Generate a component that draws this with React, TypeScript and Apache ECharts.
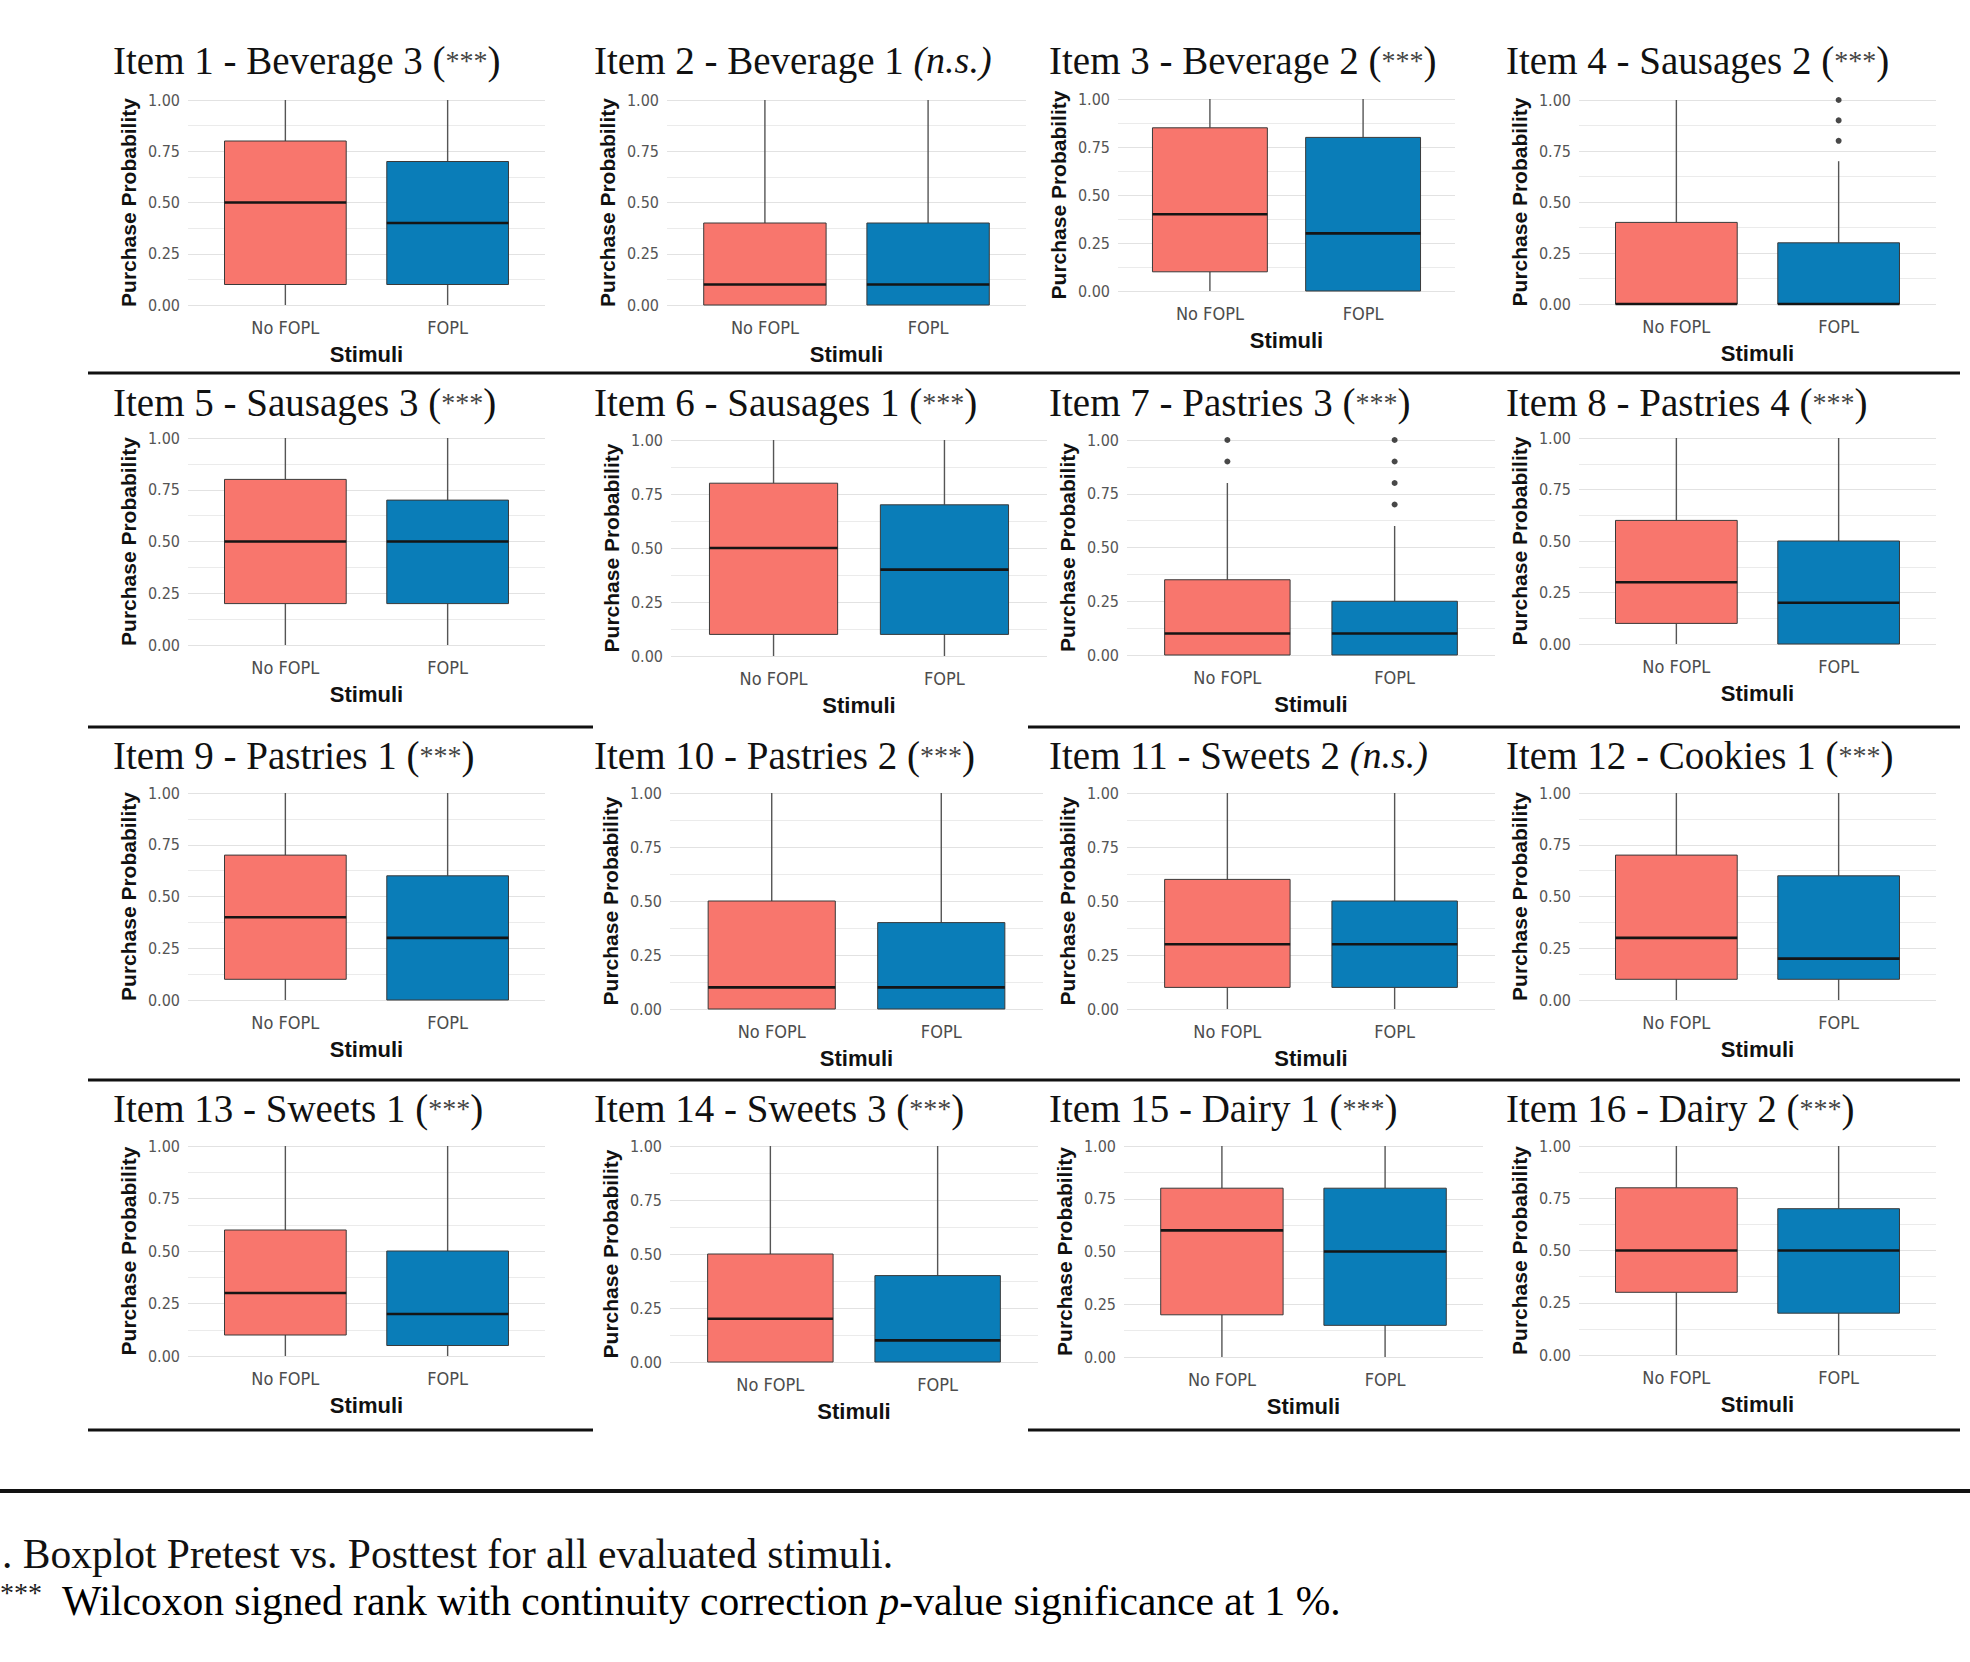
import React, { useEffect, useRef } from "react";
import * as echarts from "echarts";

// ---------- data ----------
const itemNames = [
  "Item 1 - Beverage 3", "Item 2 - Beverage 1", "Item 3 - Beverage 2", "Item 4 - Sausages 2",
  "Item 5 - Sausages 3", "Item 6 - Sausages 1", "Item 7 - Pastries 3", "Item 8 - Pastries 4",
  "Item 9 - Pastries 1", "Item 10 - Pastries 2", "Item 11 - Sweets 2", "Item 12 - Cookies 1",
  "Item 13 - Sweets 1", "Item 14 - Sweets 3", "Item 15 - Dairy 1", "Item 16 - Dairy 2",
];
const significance = [
  "***", "n.s.", "***", "***",
  "***", "***", "***", "***",
  "***", "***", "n.s.", "***",
  "***", "***", "***", "***",
];
const xCategories = ["No FOPL", "FOPL"];
const yTicks = [0, 0.25, 0.5, 0.75, 1];
// [min, Q1, median, Q3, max]
const noFoplStats = [
  [0, 0.1, 0.5, 0.8, 1], [0, 0, 0.1, 0.4, 1], [0, 0.1, 0.4, 0.85, 1], [0, 0, 0, 0.4, 1],
  [0, 0.2, 0.5, 0.8, 1], [0, 0.1, 0.5, 0.8, 1], [0, 0, 0.1, 0.35, 0.8], [0, 0.1, 0.3, 0.6, 1],
  [0, 0.1, 0.4, 0.7, 1], [0, 0, 0.1, 0.5, 1], [0, 0.1, 0.3, 0.6, 1], [0, 0.1, 0.3, 0.7, 1],
  [0, 0.1, 0.3, 0.6, 1], [0, 0, 0.2, 0.5, 1], [0, 0.2, 0.6, 0.8, 1], [0, 0.3, 0.5, 0.8, 1],
];
const foplStats = [
  [0, 0.1, 0.4, 0.7, 1], [0, 0, 0.1, 0.4, 1], [0, 0, 0.3, 0.8, 1], [0, 0, 0, 0.3, 0.7],
  [0, 0.2, 0.5, 0.7, 1], [0, 0.1, 0.4, 0.7, 1], [0, 0, 0.1, 0.25, 0.6], [0, 0, 0.2, 0.5, 1],
  [0, 0, 0.3, 0.6, 1], [0, 0, 0.1, 0.4, 1], [0, 0.1, 0.3, 0.5, 1], [0, 0.1, 0.2, 0.6, 1],
  [0, 0.05, 0.2, 0.5, 1], [0, 0, 0.1, 0.4, 1], [0, 0.15, 0.5, 0.8, 1], [0, 0.2, 0.5, 0.7, 1],
];
const noFoplOutliers = [
  [], [], [], [],
  [], [], [0.9, 1.0], [],
  [], [], [], [],
  [], [], [], [],
];
const foplOutliers = [
  [], [], [], [0.8, 0.9, 1.0],
  [], [], [0.7, 0.8, 0.9, 1.0], [],
  [], [], [], [],
  [], [], [], [],
];

// ---------- layout (pixels) ----------
// [left, width, top(=1.00), height]
const panelBoxes = [
  [188, 357, 100, 205], [667, 359, 100, 205], [1118, 337, 99, 192], [1579, 357, 100, 204],
  [188, 357, 438, 207], [671, 376, 440, 216], [1127, 368, 440, 215], [1579, 357, 438, 206],
  [188, 357, 793, 207], [670, 373, 793, 216], [1127, 368, 793, 216], [1579, 357, 793, 207],
  [188, 357, 1146, 210], [670, 368, 1146, 216], [1124, 359, 1146, 211], [1579, 357, 1146, 209],
];
const titleLefts = [113, 594, 1049, 1506];
const titleCentersY = [60, 402, 755, 1108];

const SALMON = "#F8766D";
const BLUE = "#0A7DB8";
const SERIF = "'Liberation Serif', 'DejaVu Serif', serif";
const SANS = "'Liberation Sans', Arial, sans-serif";
const NARROW = "'Liberation Sans Narrow', 'DejaVu Sans Condensed', 'Liberation Sans', sans-serif";

function buildOption() {
  const grid: any[] = [];
  const xAxis: any[] = [];
  const yAxis: any[] = [];
  const series: any[] = [];
  const title: any[] = [];

  for (let i = 0; i < 16; i++) {
    const [l, w, t, h] = panelBoxes[i];
    grid.push({ left: l, top: t, width: w, height: h, containLabel: false });
    xAxis.push({
      gridIndex: i,
      type: "value",
      min: 0.4,
      max: 2.6,
      axisLine: { show: false },
      axisTick: { show: false },
      splitLine: { show: false },
      axisLabel: {
        customValues: [1, 2],
        formatter: (v: number) => {
          const k = Math.round(v * 1000) / 1000;
          return k === 1 ? xCategories[0] : k === 2 ? xCategories[1] : "";
        },
        color: "#4d4d4d",
        fontSize: 18,
        fontFamily: NARROW,
        margin: 13,
      },
      name: "Stimuli",
      nameLocation: "middle",
      nameGap: 38,
      nameTextStyle: { fontWeight: "bold", fontSize: 22, color: "#111", fontFamily: SANS },
    });
    yAxis.push({
      gridIndex: i,
      type: "value",
      min: yTicks[0],
      max: yTicks[yTicks.length - 1],
      interval: 0.25,
      axisLine: { show: false },
      axisTick: { show: false },
      axisLabel: {
        formatter: (v: number) => v.toFixed(2),
        color: "#555",
        fontSize: 16,
        fontFamily: NARROW,
        margin: 8,
      },
      splitLine: { lineStyle: { color: "#e2e2e2", width: 1.2 } },
      minorTick: { show: false, splitNumber: 2 },
      minorSplitLine: { show: true, lineStyle: { color: "#ebebeb", width: 1 } },
      name: "Purchase Probability",
      nameLocation: "middle",
      nameGap: 49,
      nameTextStyle: { fontWeight: "bold", fontSize: 21, color: "#111", fontFamily: SANS },
    });

    series.push({
      type: "custom",
      xAxisIndex: i,
      yAxisIndex: i,
      data: [
        [1, ...noFoplStats[i]],
        [2, ...foplStats[i]],
      ],
      encode: { x: 0, y: [1, 2, 3, 4, 5] },
      renderItem: (params: any, api: any) => {
        const x = api.value(0);
        const lo = api.coord([x, api.value(1)]);
        const q1 = api.coord([x, api.value(2)]);
        const md = api.coord([x, api.value(3)]);
        const q3 = api.coord([x, api.value(4)]);
        const hi = api.coord([x, api.value(5)]);
        const half = api.size([0.75, 0])[0] / 2;
        const fill = params.dataIndex === 0 ? SALMON : BLUE;
        const whisker = { stroke: "#555", lineWidth: 1.4 };
        return {
          type: "group",
          children: [
            { type: "line", shape: { x1: lo[0], y1: lo[1], x2: q1[0], y2: q1[1] }, style: whisker },
            { type: "line", shape: { x1: q3[0], y1: q3[1], x2: hi[0], y2: hi[1] }, style: whisker },
            {
              type: "rect",
              shape: { x: q1[0] - half, y: q3[1], width: half * 2, height: q1[1] - q3[1] },
              style: { fill, stroke: "#3a3a3a", lineWidth: 1 },
            },
            {
              type: "line",
              shape: { x1: md[0] - half, y1: md[1], x2: md[0] + half, y2: md[1] },
              style: { stroke: "#151515", lineWidth: 2.6 },
            },
          ],
        };
      },
      z: 3,
    });

    const outPts: number[][] = [];
    noFoplOutliers[i].forEach((v) => outPts.push([1, v]));
    foplOutliers[i].forEach((v) => outPts.push([2, v]));
    if (outPts.length) {
      series.push({
        type: "scatter",
        xAxisIndex: i,
        yAxisIndex: i,
        data: outPts,
        symbolSize: 6,
        itemStyle: { color: "#1a1a1a" },
        z: 4,
      });
    }

    const sig = significance[i];
    const text =
      sig === "n.s."
        ? `{t|${itemNames[i]} }{i|(n.s.)}`
        : `{t|${itemNames[i]} (}{s|${sig}}{t|)}`;
    const col = i % 4;
    const row = Math.floor(i / 4);
    title.push({
      left: titleLefts[col],
      top: titleCentersY[row] - 24,
      padding: 0,
      text,
      textStyle: {
        fontWeight: "normal",
        rich: {
          t: { fontFamily: SERIF, fontSize: 39, fontWeight: "normal", color: "#111", lineHeight: 48 },
          i: { fontFamily: SERIF, fontSize: 38, fontWeight: "normal", color: "#111", fontStyle: "italic", lineHeight: 48 },
          s: { fontFamily: SERIF, fontSize: 28, fontWeight: "normal", color: "#444", verticalAlign: "middle", lineHeight: 48 },
        },
      },
    });
  }

  const sepLine = (x1: number, x2: number, y: number, w: number) => ({
    type: "line",
    shape: { x1, y1: y, x2, y2: y },
    style: { stroke: "#111", lineWidth: w },
    silent: true,
  });

  const graphic: any[] = [
    sepLine(88, 1960, 373, 3),
    sepLine(88, 593, 727, 3),
    sepLine(1028, 1960, 727, 3),
    sepLine(88, 1960, 1080, 3),
    sepLine(88, 593, 1430, 3),
    sepLine(1028, 1960, 1430, 3),
    sepLine(0, 1970, 1491, 4),
    {
      type: "text",
      x: 2,
      y: 1554,
      style: {
        text: ". Boxplot Pretest vs. Posttest for all evaluated stimuli.",
        font: `41.5px ${SERIF}`,
        fill: "#111",
        verticalAlign: "middle",
      },
    },
    {
      type: "text",
      x: 0,
      y: 1592,
      style: { text: "***", font: `28px ${SERIF}`, fill: "#222", verticalAlign: "middle" },
    },
    {
      type: "text",
      x: 62,
      y: 1601,
      style: {
        text: "{r|Wilcoxon signed rank with continuity correction }{i|p}{r|-value significance at 1 %.}",
        verticalAlign: "middle",
        rich: {
          r: { fontFamily: SERIF, fontSize: 41.5, color: "#111" },
          i: { fontFamily: SERIF, fontSize: 41.5, color: "#111", fontStyle: "italic" },
        },
      },
    },
  ];

  return {
    animation: false,
    backgroundColor: "#ffffff",
    title,
    grid,
    xAxis,
    yAxis,
    series,
    graphic,
  };
}

export default function App() {
  const ref = useRef<HTMLDivElement>(null);
  useEffect(() => {
    document.body.style.margin = "0";
    if (!ref.current) return;
    const chart = echarts.init(ref.current, undefined, { renderer: "svg" });
    chart.setOption(buildOption() as any);
    return () => chart.dispose();
  }, []);
  return <div ref={ref} style={{ width: 1970, height: 1662 }} />;
}
